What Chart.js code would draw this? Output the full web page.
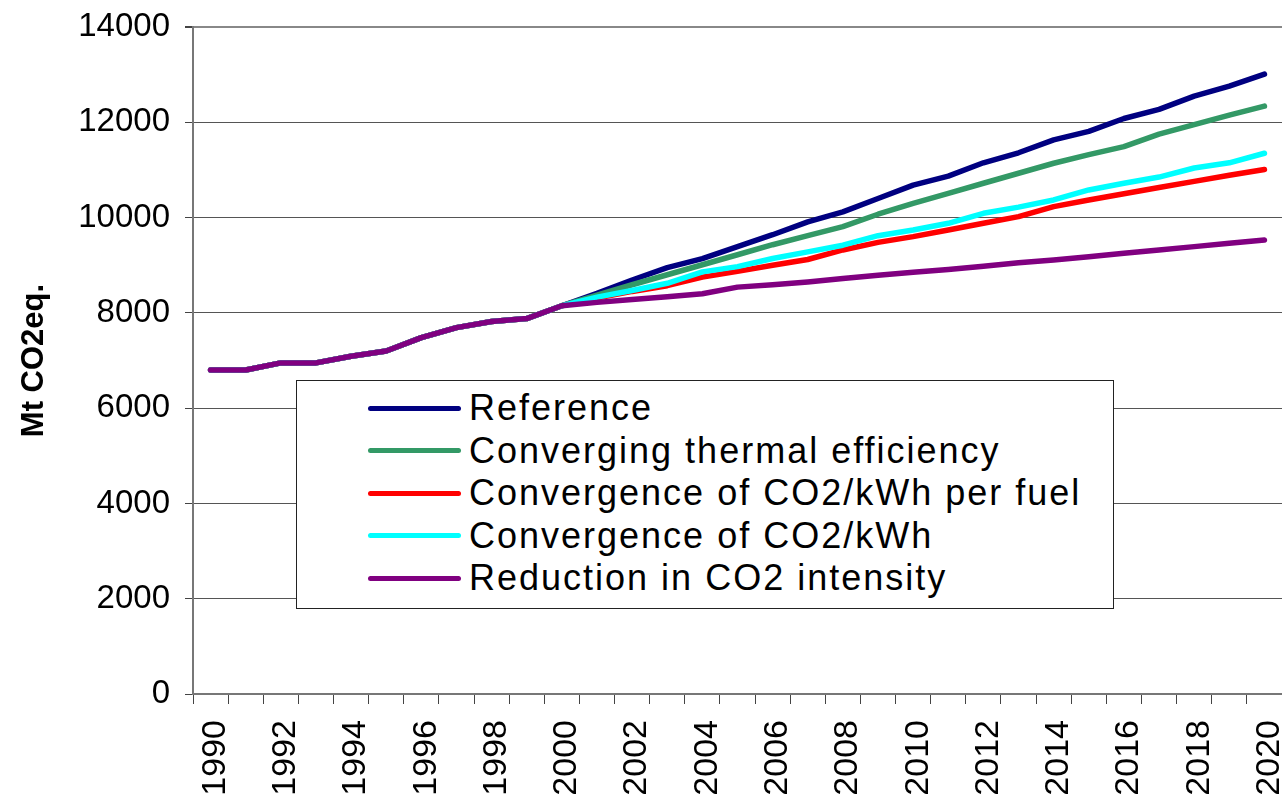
<!DOCTYPE html>
<html>
<head>
<meta charset="utf-8">
<script src="https://cdn.jsdelivr.net/npm/chart.js@4.4.1/dist/chart.umd.min.js"></script>
<style>
    html, body { margin: 0; padding: 0; background: #fff; }
    #wrap { position: relative; width: 1282px; height: 798px; }
    #legend {
        position: absolute; left: 296px; top: 380px; width: 818px; height: 229px;
        border: 1.5px solid #222; background: #fff; box-sizing: border-box;
        font-family: 'Liberation Sans', Arial, sans-serif; font-size: 36px; letter-spacing: 2px;
        padding-top: 6px;
    }
    .row { display: flex; align-items: center; height: 42.5px; }
    .swatch { width: 93px; height: 5px; border-radius: 3px; margin-left: 71px; margin-right: 8px; }
</style>
</head>
<body>
<div id="wrap">
    <canvas id="chart"></canvas>
    <div id="legend"></div>
</div>
<script>
// years on the x axis
const years = [
    '1990', '1991', '1992', '1993', '1994', '1995', '1996', '1997', '1998', '1999', '2000',
    '2001', '2002', '2003', '2004', '2005', '2006', '2007', '2008', '2009', '2010',
    '2011', '2012', '2013', '2014', '2015', '2016', '2017', '2018', '2019', '2020'
];

// Mt CO2eq. per scenario
const reference = [
    6800, 6800, 6950, 6950, 7090, 7200, 7480, 7690, 7820, 7880, 8150,
    8410, 8690, 8950, 9140, 9390, 9640, 9910, 10120, 10400, 10680,
    10870, 11150, 11360, 11630, 11810, 12080, 12270, 12550, 12760, 13010
];
const thermalEfficiency = [
    6800, 6800, 6950, 6950, 7090, 7200, 7480, 7690, 7820, 7880, 8150,
    8370, 8590, 8800, 9010, 9220, 9430, 9620, 9810, 10070, 10300,
    10510, 10720, 10930, 11140, 11320, 11490, 11750, 11950, 12150, 12340
];
const perFuel = [
    6800, 6800, 6950, 6950, 7090, 7200, 7480, 7690, 7820, 7880, 8150,
    8310, 8450, 8570, 8750, 8870, 9000, 9120, 9320, 9480, 9600,
    9740, 9880, 10020, 10230, 10370, 10500, 10630, 10760, 10890, 11010
];
const perKwh = [
    6800, 6800, 6950, 6950, 7090, 7200, 7480, 7690, 7820, 7880, 8150,
    8330, 8470, 8620, 8860, 8970, 9140, 9280, 9420, 9620, 9740,
    9880, 10090, 10220, 10370, 10580, 10720, 10850, 11040, 11150, 11350
];
const intensity = [
    6800, 6800, 6950, 6950, 7090, 7200, 7480, 7690, 7820, 7880, 8150,
    8220, 8280, 8340, 8400, 8540, 8590, 8650, 8720, 8790, 8850,
    8910, 8980, 9050, 9110, 9180, 9250, 9320, 9390, 9460, 9530
];

const seriesNames = [
    'Reference',
    'Converging thermal efficiency',
    'Convergence of CO2/kWh per fuel',
    'Convergence of CO2/kWh',
    'Reduction in CO2 intensity'
];
const seriesColors = ['#000080', '#339966', '#FF0000', '#00FFFF', '#800080'];
const seriesValues = [reference, thermalEfficiency, perFuel, perKwh, intensity];

const yTicks = [0, 2000, 4000, 6000, 8000, 10000, 12000, 14000];

const FONT = "'Liberation Sans', Arial, sans-serif";

const datasets = seriesValues.map((values, i) => ({
    label: seriesNames[i],
    data: values,
    borderColor: seriesColors[i],
    backgroundColor: seriesColors[i],
    borderWidth: 5.5,
    borderCapStyle: 'round',
    borderJoinStyle: 'round',
    pointRadius: 0,
    tension: 0,
    fill: false,
    order: seriesValues.length - i // later series drawn on top
}));

new Chart(document.getElementById('chart'), {
    type: 'line',
    data: { labels: years, datasets: datasets },
    options: {
        responsive: true,
        maintainAspectRatio: false,
        animation: false,
        layout: { padding: { top: 27, right: 0, left: 0, bottom: 0 } },
        plugins: {
            legend: { display: false },
            tooltip: { enabled: false }
        },
        scales: {
            x: {
                offset: true,
                afterFit: (scale) => {
                    scale.height = 104;
                    scale.paddingLeft = 0;
                    scale.paddingRight = 0;
                },
                grid: {
                    offset: true,
                    drawOnChartArea: false,
                    drawTicks: true,
                    tickLength: 10,
                    color: '#444'
                },
                border: { color: '#777', width: 2 },
                ticks: {
                    autoSkip: false,
                    maxRotation: 90,
                    minRotation: 90,
                    padding: 16,
                    labelOffset: 5,
                    color: '#000',
                    font: { family: FONT, size: 34 },
                    callback: function (value, index) {
                        return index % 2 === 0 ? years[index] : '';
                    }
                }
            },
            y: {
                min: 0,
                max: 14000,
                afterFit: (scale) => {
                    scale.width = 193;
                    scale.paddingTop = 0;
                    scale.paddingBottom = 0;
                },
                afterBuildTicks: (scale) => { scale.ticks = yTicks.map(v => ({ value: v })); },
                grid: {
                    color: (ctx) => ctx.tick && ctx.tick.value === 14000 ? '#888' : '#555',
                    lineWidth: (ctx) => ctx.tick && ctx.tick.value === 14000 ? 2 : 1,
                    tickLength: 8,
                    tickColor: '#444'
                },
                border: { color: '#777', width: 2 },
                ticks: {
                    padding: 15,
                    color: '#000',
                    font: { family: FONT, size: 33 },
                    callback: (value) => String(value)
                },
                title: {
                    display: true,
                    text: 'Mt CO2eq.',
                    color: '#000',
                    font: { family: FONT, size: 31, weight: 'bold' },
                    padding: { top: 16, bottom: 0 }
                }
            }
        }
    }
});

// legend box drawn inside the plot area
const legendEl = document.getElementById('legend');
seriesNames.forEach((name, i) => {
    const row = document.createElement('div');
    row.className = 'row';
    const sw = document.createElement('div');
    sw.className = 'swatch';
    sw.style.background = seriesColors[i];
    const label = document.createElement('span');
    label.textContent = name;
    row.appendChild(sw);
    row.appendChild(label);
    legendEl.appendChild(row);
});
</script>
</body>
</html>
